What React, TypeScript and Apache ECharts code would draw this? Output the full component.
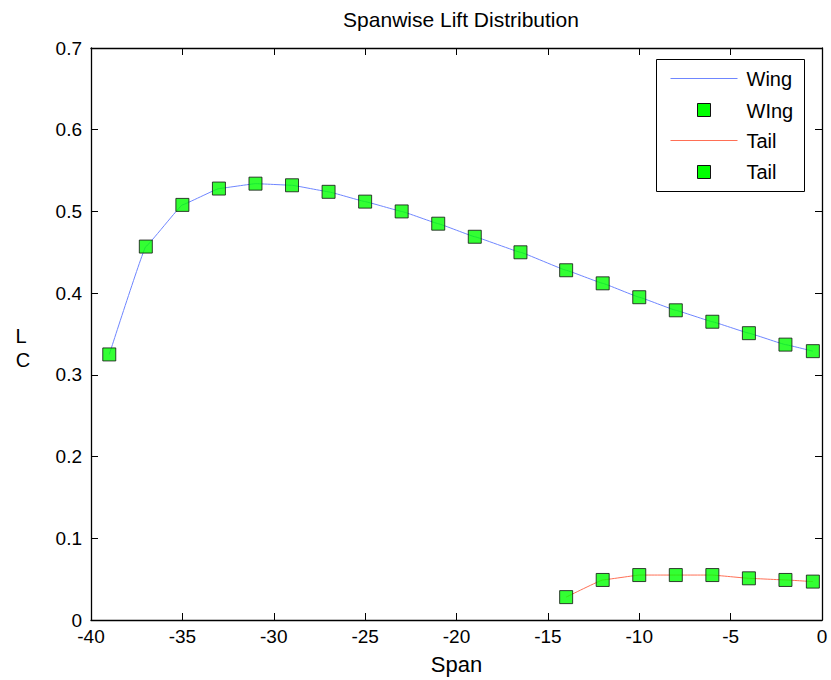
import React, { useEffect, useRef } from "react";
import * as echarts from "echarts";

const wingSpan = [-39, -37, -35, -33, -31, -29, -27, -25, -23, -21, -19, -16.5, -14, -12, -10, -8, -6, -4, -2, -0.5];
const wingCl = [0.325, 0.457, 0.508, 0.528, 0.534, 0.532, 0.524, 0.512, 0.5, 0.485, 0.469, 0.45, 0.428, 0.412, 0.395, 0.379, 0.365, 0.351, 0.337, 0.329];
const tailSpan = [-14, -12, -10, -8, -6, -4, -2, -0.5];
const tailCl = [0.028, 0.049, 0.055, 0.055, 0.055, 0.051, 0.049, 0.047];

const xTicks = { min: -40, max: 0, interval: 5 };
const yTicks = { min: 0, max: 0.7, interval: 0.1 };

const FONT = "Liberation Sans, Arial, Helvetica, sans-serif";
const WING_COLOR = "#6f86ff";
const TAIL_COLOR = "#ff6f55";
const MARK_COLOR = "#00ff00";

const axisLine = () => ({ show: true, onZero: false, lineStyle: { color: "#000", width: 1.3 } });
const tick = () => ({ show: true, inside: true, length: 7, lineStyle: { color: "#000", width: 1 } });

export default function App() {
  const ref = useRef<HTMLDivElement>(null);
  useEffect(() => {
    if (!ref.current) return;
    const chart = echarts.init(ref.current, undefined, { renderer: "svg" });
    const wingData = wingSpan.map((x, i) => [x, wingCl[i]]);
    const tailData = tailSpan.map((x, i) => [x, tailCl[i]]);
    const markerStyle = { color: MARK_COLOR, borderColor: "#111", borderWidth: 1 };
    chart.setOption({
      animation: false,
      backgroundColor: "#fff",
      title: {
        text: "Spanwise Lift Distribution",
        left: 456,
        textAlign: "center",
        top: 4,
        textStyle: { fontFamily: FONT, fontSize: 21, fontWeight: "normal", color: "#000" },
      },
      grid: { left: 91, right: 9, top: 48, bottom: 59, containLabel: false },
      xAxis: [
        {
          type: "value",
          ...xTicks,
          position: "bottom",
          axisLine: axisLine(),
          axisTick: tick(),
          splitLine: { show: false },
          axisLabel: { fontFamily: FONT, fontSize: 19, color: "#000", margin: 7 },
          name: "Span",
          nameLocation: "middle",
          nameGap: 33,
          nameTextStyle: { fontFamily: FONT, fontSize: 22, color: "#000" },
        },
        {
          type: "value",
          ...xTicks,
          position: "top",
          axisLine: axisLine(),
          axisTick: tick(),
          splitLine: { show: false },
          axisLabel: { show: false },
        },
      ],
      yAxis: [
        {
          type: "value",
          ...yTicks,
          position: "left",
          axisLine: axisLine(),
          axisTick: tick(),
          splitLine: { show: false },
          axisLabel: { fontFamily: FONT, fontSize: 19, color: "#000", margin: 9 },
        },
        {
          type: "value",
          ...yTicks,
          position: "right",
          axisLine: axisLine(),
          axisTick: tick(),
          splitLine: { show: false },
          axisLabel: { show: false },
        },
      ],
      series: [
        {
          name: "Wing",
          type: "line",
          data: wingData,
          smooth: 0.05,
          smoothMonotone: "x",
          showSymbol: false,
          symbol: "none",
          lineStyle: { color: WING_COLOR, width: 1 },
          z: 2,
        },
        {
          name: "WIng",
          type: "scatter",
          data: wingData,
          symbol: "rect",
          symbolSize: 13,
          itemStyle: markerStyle,
          z: 3,
        },
        {
          name: "Tail",
          type: "line",
          data: tailData,
          smooth: 0.05,
          smoothMonotone: "x",
          showSymbol: false,
          symbol: "none",
          lineStyle: { color: TAIL_COLOR, width: 1 },
          z: 2,
        },
        {
          name: "Tail markers",
          type: "scatter",
          data: tailData,
          symbol: "rect",
          symbolSize: 13,
          itemStyle: markerStyle,
          z: 3,
        },
      ],
      graphic: [
        { type: "text", x: 21, y: 336, style: { text: "L", font: `20px ${FONT}`, fill: "#000", align: "center", verticalAlign: "middle" } },
        { type: "text", x: 23, y: 360, style: { text: "C", font: `20px ${FONT}`, fill: "#000", align: "center", verticalAlign: "middle" } },
        {
          type: "group",
          left: 656,
          top: 59,
          children: [
            { type: "rect", shape: { x: 0, y: 0, width: 148, height: 132 }, style: { fill: "#fff", stroke: "#000", lineWidth: 1 } },
            { type: "line", shape: { x1: 14, y1: 19, x2: 81, y2: 19 }, style: { stroke: WING_COLOR, lineWidth: 1 } },
            { type: "rect", shape: { x: 41, y: 44, width: 13, height: 13 }, style: { fill: MARK_COLOR, stroke: "#111", lineWidth: 1 } },
            { type: "line", shape: { x1: 14, y1: 81, x2: 81, y2: 81 }, style: { stroke: TAIL_COLOR, lineWidth: 1 } },
            { type: "rect", shape: { x: 41, y: 106, width: 13, height: 13 }, style: { fill: MARK_COLOR, stroke: "#111", lineWidth: 1 } },
            { type: "text", x: 90, y: 19, style: { text: "Wing", font: `20px ${FONT}`, fill: "#000", textVerticalAlign: "middle" } },
            { type: "text", x: 90, y: 51, style: { text: "WIng", font: `20px ${FONT}`, fill: "#000", textVerticalAlign: "middle" } },
            { type: "text", x: 90, y: 81, style: { text: "Tail", font: `20px ${FONT}`, fill: "#000", textVerticalAlign: "middle" } },
            { type: "text", x: 90, y: 112, style: { text: "Tail", font: `20px ${FONT}`, fill: "#000", textVerticalAlign: "middle" } },
          ],
        },
      ],
    });
    return () => chart.dispose();
  }, []);
  return <div ref={ref} style={{ width: 831, height: 680, position: "absolute", left: 0, top: 0 }} />;
}
